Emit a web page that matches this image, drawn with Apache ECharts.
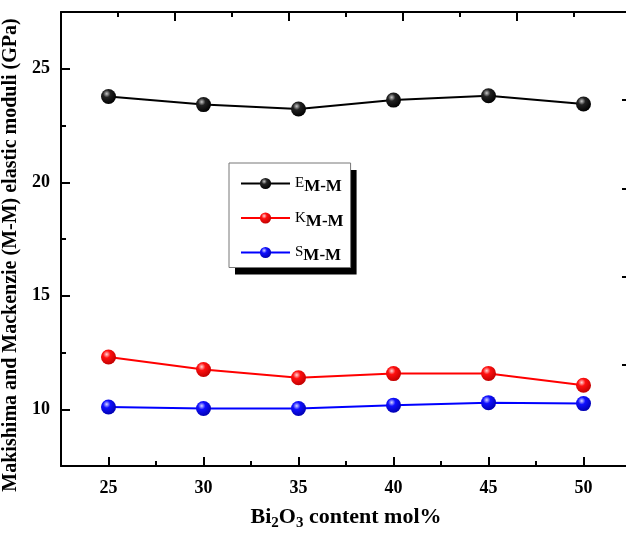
<!DOCTYPE html>
<html>
<head>
<meta charset="UTF-8">
<title>M-M elastic moduli</title>
<script src="https://cdn.jsdelivr.net/npm/echarts@6/dist/echarts.min.js"></script>
<style>
    html, body { margin: 0; padding: 0; background: #fff; }
    #chart { width: 626px; height: 537px; }
</style>
</head>
<body>
<div id="chart"></div>
<script>
    // data
    var bi2o3 = [25, 30, 35, 40, 45, 50];
    var eMM = [23.78, 23.42, 23.23, 23.62, 23.81, 23.45];
    var kMM = [12.30, 11.75, 11.39, 11.57, 11.58, 11.06];
    var sMM = [10.10, 10.03, 10.03, 10.18, 10.29, 10.25];

    // tick positions
    var xTicks = [25, 30, 35, 40, 45, 50];
    var xMinor = [27.5, 32.5, 37.5, 42.5, 47.5];
    var yTicks = [10, 15, 20, 25];
    var yMinor = [12.5, 17.5, 22.5];
    // top / right frame ticks (unlabelled, own scale)
    var frameMajor = [2, 4, 6, 8];
    var frameMinor = [1, 3, 5, 7, 9];

    var serif = '"Liberation Serif", "DejaVu Serif", serif';

    function ball(hi, mid, edge) {
        return {
            type: 'radial', x: 0.38, y: 0.32, r: 0.7,
            colorStops: [
                { offset: 0, color: hi },
                { offset: 0.35, color: mid },
                { offset: 1, color: edge }
            ]
        };
    }

    function pairs(ys) {
        return bi2o3.map(function (x, i) { return [x, ys[i]]; });
    }

    function line(name, ys, color, sphere) {
        return {
            name: name,
            type: 'line',
            data: pairs(ys),
            xAxisIndex: 0,
            yAxisIndex: 0,
            symbol: 'circle',
            symbolSize: 15,
            showAllSymbol: true,
            lineStyle: { color: color, width: 2 },
            itemStyle: { color: sphere, borderWidth: 0 },
            z: 5
        };
    }

    var tickLine = { color: '#000', width: 2 };

    function axisPart(pos, min, max, show, ticks, len, labels, margin) {
        return {
            type: 'value', position: pos, min: min, max: max,
            axisLine: { show: show, onZero: false, lineStyle: tickLine },
            axisTick: { show: true, inside: true, length: len, customValues: ticks, lineStyle: tickLine },
            axisLabel: labels ? {
                customValues: labels, margin: margin,
                fontFamily: serif, fontWeight: 'bold', fontSize: 18, color: '#000'
            } : { show: false },
            splitLine: { show: false }
        };
    }

    var chart = echarts.init(document.getElementById('chart'));

    var xMain = axisPart('bottom', 22.5, 52.5, true, xTicks, 9, xTicks, 13);
    xMain.name = 'Bi{sub|2}O{sub|3} content mol%';
    xMain.nameLocation = 'middle';
    xMain.nameGap = 38;
    xMain.nameTextStyle = {
        fontFamily: serif, fontWeight: 'bold', fontSize: 22, color: '#000',
        rich: {
            sub: { fontFamily: serif, fontWeight: 'bold', fontSize: 15, color: '#000', padding: [12, 0, 0, 0] }
        }
    };

    var yMain = axisPart('left', 7.5, 27.5, true, yTicks, 9, yTicks, 11);
    yMain.name = 'Makishima and Mackenzie (M-M) elastic moduli (GPa)';
    yMain.nameLocation = 'middle';
    yMain.nameGap = 33;
    yMain.nameTextStyle = {
        fontFamily: serif, fontWeight: 'bold', fontSize: 20, color: '#000',
        padding: [0, 32, 0, 0]
    };

    var yRight = axisPart('right', 0, 10.3, true, frameMajor, 9, null);
    yRight.inverse = true;
    var yRightMinor = axisPart('right', 0, 10.3, false, frameMinor, 5, null);
    yRightMinor.inverse = true;

    var legendNames = ['E', 'K', 'S'];
    var legendBase = {
        orient: 'vertical',
        padding: [13, 7, 3, 11],
        itemWidth: 49,
        itemHeight: 14,
        itemGap: 15,
        data: legendNames,
        selectedMode: false,
        formatter: function (name) { return '{a|' + name + '}{b|M-M}'; }
    };

    function legendRich(color) {
        return {
            rich: {
                a: { fontFamily: serif, fontSize: 15, color: color },
                b: { fontFamily: serif, fontSize: 17, fontWeight: 'bold', color: color, padding: [7, 0, 0, 0] }
            }
        };
    }

    // drop shadow behind the legend box
    var legendShadow = Object.assign({}, legendBase, {
        left: 235, top: 170, z: 1,
        backgroundColor: '#000',
        borderWidth: 0,
        itemStyle: { opacity: 0 },
        lineStyle: { opacity: 0 },
        textStyle: legendRich('rgba(0,0,0,0)')
    });
    var legendFront = Object.assign({}, legendBase, {
        left: 229, top: 163, z: 3,
        backgroundColor: '#fff',
        borderColor: '#777',
        borderWidth: 1,
        textStyle: legendRich('#000')
    });

    var option = {
        backgroundColor: '#fff',
        animation: false,
        grid: { left: 61, right: -5, top: 12, bottom: 71, containLabel: false, outerBoundsMode: 'none' },
        xAxis: [
            xMain,
            axisPart('bottom', 22.5, 52.5, false, xMinor, 5, null),
            axisPart('top', 0, 10, true, frameMajor, 9, null),
            axisPart('top', 0, 10, false, frameMinor, 5, null)
        ],
        yAxis: [
            yMain,
            axisPart('left', 7.5, 27.5, false, yMinor, 5, null),
            yRight,
            yRightMinor
        ],
        legend: [legendShadow, legendFront],
        series: [
            line('E', eMM, '#000', ball('#c8c8c8', '#222', '#000')),
            line('K', kMM, '#ff0000', ball('#ffd6d6', '#ff1010', '#c00000')),
            line('S', sMM, '#0000ff', ball('#d6d6ff', '#1010ff', '#0000b0'))
        ]
    };

    chart.setOption(option);
</script>
</body>
</html>
